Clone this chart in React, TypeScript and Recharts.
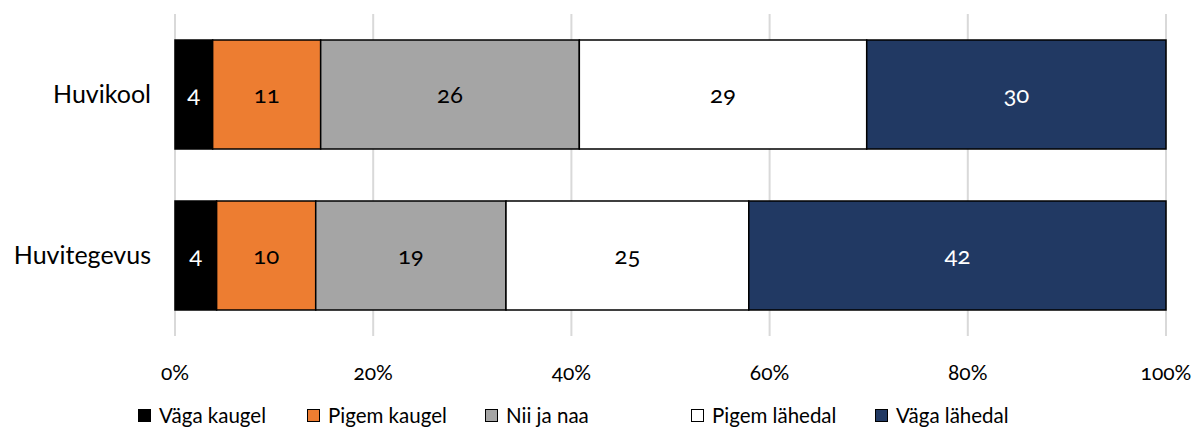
import React from "react";
import { BarChart, Bar, XAxis, YAxis, CartesianGrid, LabelList } from "recharts";

// categories (top to bottom)
const categories = ["Huvikool", "Huvitegevus"];

// shares in %
const vagaKaugel = [3.8, 4.2];
const pigemKaugel = [10.9, 10.0];
const niiJaNaa = [26.1, 19.2];
const pigemLahedal = [29.0, 24.5];
const vagaLahedal = [30.2, 42.1];

const xTicks = [0, 20, 40, 60, 80, 100];

const series = [
    { key: "vagaKaugel", name: "Väga kaugel", values: vagaKaugel },
    { key: "pigemKaugel", name: "Pigem kaugel", values: pigemKaugel },
    { key: "niiJaNaa", name: "Nii ja naa", values: niiJaNaa },
    { key: "pigemLahedal", name: "Pigem lähedal", values: pigemLahedal },
    { key: "vagaLahedal", name: "Väga lähedal", values: vagaLahedal },
];

// styling per series
const FILLS = ["#000000", "#ED7D31", "#A5A5A5", "#FFFFFF", "#213963"];
const LABEL_COLORS = ["#FFFFFF", "#000000", "#000000", "#000000", "#FFFFFF"];
const LEGEND_WIDTHS = [169, 178, 206, 184, 140];

const FONT = "Lato, 'Open Sans', sans-serif";
const NUMS = { fontFamily: FONT, fontVariantNumeric: "oldstyle-nums" as const };

const data = categories.map((name, i) => {
    const row: Record<string, string | number> = { name };
    series.forEach((s) => {
        row[s.key] = s.values[i];
    });
    return row;
});

const App: React.FC = () => {
    return (
        <div style={{ position: "absolute", left: 0, top: 0, width: 1193, height: 429, background: "#fff", fontFamily: FONT }}>
            <BarChart
                width={1193}
                height={429}
                data={data}
                layout="vertical"
                margin={{ top: 14, right: 27, left: 0, bottom: 63 }}
            >
                <CartesianGrid horizontal={false} stroke="#D9D9D9" strokeWidth={2} />
                <XAxis
                    type="number"
                    domain={[0, 100]}
                    ticks={xTicks}
                    tickFormatter={(v) => `${v}%`}
                    axisLine={false}
                    tickLine={false}
                    tickMargin={23}
                    tick={{ fontSize: 21, fill: "#000", style: NUMS }}
                />
                <YAxis
                    type="category"
                    dataKey="name"
                    width={175}
                    axisLine={false}
                    tickLine={false}
                    tickMargin={18}
                    tick={{ fontSize: 25, fill: "#000", fontFamily: FONT }}
                />
                {series.map((s, i) => (
                    <Bar
                        key={s.key}
                        dataKey={s.key}
                        name={s.name}
                        stackId="a"
                        fill={FILLS[i]}
                        stroke="#000"
                        strokeWidth={1.5}
                        barSize={109}
                        isAnimationActive={false}
                    >
                        <LabelList
                            dataKey={s.key}
                            position="center"
                            formatter={(v: any) => Math.round(Number(v))}
                            fill={LABEL_COLORS[i]}
                            style={{ fontSize: 24, ...NUMS }}
                        />
                    </Bar>
                ))}
            </BarChart>
            <div
                style={{
                    position: "absolute",
                    left: 138,
                    top: 403,
                    display: "flex",
                    alignItems: "center",
                    fontSize: 20.5,
                    color: "#000",
                    whiteSpace: "nowrap",
                }}
            >
                {series.map((s, i) => (
                    <div key={s.key} style={{ display: "flex", alignItems: "center", width: LEGEND_WIDTHS[i] }}>
                        <span
                            style={{
                                display: "inline-block",
                                width: 11,
                                height: 11,
                                background: FILLS[i],
                                border: "1.5px solid #000",
                                marginRight: 8,
                            }}
                        />
                        <span>{s.name}</span>
                    </div>
                ))}
            </div>
        </div>
    );
};

export default App;
